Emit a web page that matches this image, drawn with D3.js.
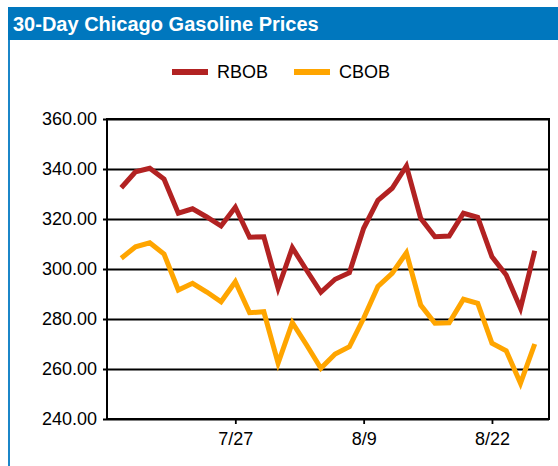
<!DOCTYPE html>
<html>
<head>
<meta charset="utf-8">
<script src="https://cdn.jsdelivr.net/npm/d3@7"></script>
<style>
    body { margin: 0; background: #fff; }
    svg { display: block; font-family: "Liberation Sans", Arial, sans-serif; }
</style>
</head>
<body>
<div id="chart"></div>
<script>
// data: one value per trading day
var series_names = ['RBOB', 'CBOB'];
var series_colors = ['#b22222', '#ffa500'];

var rbob_values = [
    332.5, 338.9, 340.3, 336.0, 322.3, 324.1, 320.8, 317.2, 324.7, 312.7,
    312.9, 292.3, 308.5, 299.5, 290.7, 295.9, 298.5, 316.3, 327.5, 332.3,
    341.2, 320.3, 312.9, 313.2, 322.3, 320.7, 304.9, 297.6, 284.3, 307.3
];

var cbob_values = [
    304.3, 308.9, 310.5, 306.0, 291.6, 294.3, 290.8, 286.9, 294.9, 282.5,
    282.9, 262.3, 278.5, 269.6, 260.3, 266.0, 268.9, 280.3, 293.0, 298.3,
    306.5, 285.6, 278.3, 278.5, 287.9, 286.3, 270.3, 267.3, 254.3, 270.0
];

var x_tick_index = [8, 17, 26];
var x_tick_labels = ['7/27', '8/9', '8/22'];
var y_ticks = [240, 260, 280, 300, 320, 340, 360];

var svg_size = {'width': 558, 'height': 466};
var plot = {'left': 107, 'right': 549, 'top': 119, 'bottom': 419};

var svg = d3.select('#chart')
    .append('svg')
    .attr('width', svg_size.width)
    .attr('height', svg_size.height);

// frame + header
svg.append('rect')
    .attr('x', 8).attr('y', 8)
    .attr('width', 2).attr('height', svg_size.height - 8)
    .style('fill', '#1b86c8');

svg.append('rect')
    .attr('x', 8).attr('y', 7)
    .attr('width', svg_size.width - 8).attr('height', 33)
    .style('fill', '#0077be');

svg.append('text')
    .attr('x', 13).attr('y', 31)
    .style('fill', '#fff')
    .style('font-weight', 'bold')
    .style('font-size', '20px')
    .text('30-Day Chicago Gasoline Prices');

// scales
var x_scale = d3.scaleLinear()
    .domain([-1, rbob_values.length])
    .range([plot.left, plot.right]);

var y_scale = d3.scaleLinear()
    .domain([240, 360])
    .range([plot.bottom, plot.top]);

// y axis with gridlines
var y_axis = d3.axisLeft(y_scale)
    .tickValues(y_ticks)
    .tickFormat(d3.format('.2f'))
    .tickSizeInner(-(plot.right - plot.left))
    .tickSizeOuter(0)
    .tickPadding(10);

var y_group = svg.append('g')
    .attr('transform', 'translate(' + plot.left + ',0)')
    .call(y_axis);
y_group.select('.domain').remove();
y_group.selectAll('.tick line')
    .attr('x1', -4)
    .style('stroke', '#000')
    .style('stroke-width', 1.8);
y_group.selectAll('.tick text')
    .style('font-size', '18px')
    .style('fill', '#000');

// x axis
var x_axis = d3.axisBottom(x_scale)
    .tickValues(x_tick_index)
    .tickFormat(function(d, i){ return x_tick_labels[i]; })
    .tickSizeInner(5)
    .tickSizeOuter(0)
    .tickPadding(8);

var x_group = svg.append('g')
    .attr('transform', 'translate(0,' + plot.bottom + ')')
    .call(x_axis);
x_group.select('.domain').remove();
x_group.selectAll('.tick line')
    .style('stroke', '#000')
    .style('stroke-width', 1.8);
x_group.selectAll('.tick text')
    .style('font-size', '18px')
    .style('fill', '#000');

// plot border
svg.append('rect')
    .attr('x', plot.left).attr('y', plot.top)
    .attr('width', plot.right - plot.left)
    .attr('height', plot.bottom - plot.top)
    .style('fill', 'none')
    .style('stroke', '#000')
    .style('stroke-width', 2);

// lines
var line = d3.line()
    .x(function(d, i){ return x_scale(i); })
    .y(function(d){ return y_scale(d); });

[rbob_values, cbob_values].forEach(function(values, k){
    svg.append('path')
        .datum(values)
        .attr('d', line)
        .style('fill', 'none')
        .style('stroke', series_colors[k])
        .style('stroke-width', 5)
        .style('stroke-linejoin', 'miter')
        .style('stroke-linecap', 'butt');
});

// legend
var legend = svg.append('g')
    .selectAll('.legend-item')
    .data(series_names)
    .enter()
    .append('g')
    .classed('legend-item', true)
    .attr('transform', function(d, i){
        return 'translate(' + (172 + 122 * i) + ',72)';
    });

legend.append('line')
    .attr('x1', 0).attr('x2', 36)
    .style('stroke', function(d, i){ return series_colors[i]; })
    .style('stroke-width', 6);

legend.append('text')
    .attr('x', 45)
    .attr('y', 6)
    .style('font-size', '18px')
    .text(function(d){ return d; });
</script>
</body>
</html>
